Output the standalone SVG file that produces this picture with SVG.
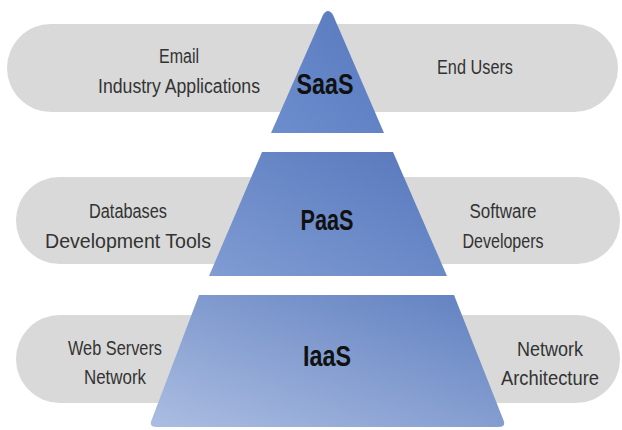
<svg xmlns="http://www.w3.org/2000/svg" width="622" height="430" viewBox="0 0 622 430">
  <defs>
    <linearGradient id="gSaaS" x1="0" y1="1" x2="1" y2="0">
      <stop offset="0" stop-color="#6c8ece"/>
      <stop offset="1" stop-color="#5878bd"/>
    </linearGradient>
    <linearGradient id="gPaaS" x1="0" y1="1" x2="1" y2="0">
      <stop offset="0" stop-color="#809cd3"/>
      <stop offset="1" stop-color="#5677bc"/>
    </linearGradient>
    <linearGradient id="gIaaS" x1="0" y1="1" x2="1" y2="0">
      <stop offset="0" stop-color="#abbde1"/>
      <stop offset="1" stop-color="#5f7fc0"/>
    </linearGradient>
  </defs>
  <style>
    .pill { fill: #d9d9d9; }
    .side { font-family: "Liberation Sans", Arial, sans-serif; font-size: 20px; fill: #333333; text-anchor: middle; }
    .tier { font-family: "Liberation Sans", Arial, sans-serif; font-weight: bold; font-size: 30px; fill: #111111; text-anchor: middle; }
  </style>
  <rect width="622" height="430" fill="#ffffff"/>
  <g id="connectors"/>
  <g id="saas">
    <rect class="pill" x="7" y="24" width="611" height="88" rx="44"/>
    <path d="M 271 133 L 323 15 Q 328 7 333 15 L 384 133 Z" fill="url(#gSaaS)"/>
    <text class="side" x="179" y="63" textLength="40" lengthAdjust="spacingAndGlyphs">Email</text>
    <text class="side" x="179" y="93" textLength="162" lengthAdjust="spacingAndGlyphs">Industry Applications</text>
    <text class="side" x="475" y="74" textLength="76" lengthAdjust="spacingAndGlyphs">End Users</text>
    <text class="tier" x="325" y="94" textLength="57" lengthAdjust="spacingAndGlyphs">SaaS</text>
  </g>
  <g id="paas">
    <rect class="pill" x="16" y="177" width="604" height="87" rx="43.5"/>
    <path d="M 262 152 L 393 152 L 447 276 L 209 276 Z" fill="url(#gPaaS)"/>
    <text class="side" x="128" y="218" textLength="78" lengthAdjust="spacingAndGlyphs">Databases</text>
    <text class="side" x="128" y="248" textLength="166" lengthAdjust="spacingAndGlyphs">Development Tools</text>
    <text class="side" x="503" y="218" textLength="67" lengthAdjust="spacingAndGlyphs">Software</text>
    <text class="side" x="503" y="248" textLength="81" lengthAdjust="spacingAndGlyphs">Developers</text>
    <text class="tier" x="327" y="230" textLength="53" lengthAdjust="spacingAndGlyphs">PaaS</text>
  </g>
  <g id="iaas">
    <rect class="pill" x="16" y="315" width="604" height="88" rx="44"/>
    <path d="M 199 295 L 454 295 L 503 419 Q 507 427 498 427 L 157 427 Q 148 427 152 419 Z" fill="url(#gIaaS)"/>
    <text class="side" x="115" y="355" textLength="94" lengthAdjust="spacingAndGlyphs">Web Servers</text>
    <text class="side" x="115" y="384" textLength="62" lengthAdjust="spacingAndGlyphs">Network</text>
    <text class="side" x="550" y="356" textLength="66" lengthAdjust="spacingAndGlyphs">Network</text>
    <text class="side" x="550" y="385" textLength="98" lengthAdjust="spacingAndGlyphs">Architecture</text>
    <text class="tier" x="327" y="366" textLength="48" lengthAdjust="spacingAndGlyphs">IaaS</text>
  </g>
</svg>
